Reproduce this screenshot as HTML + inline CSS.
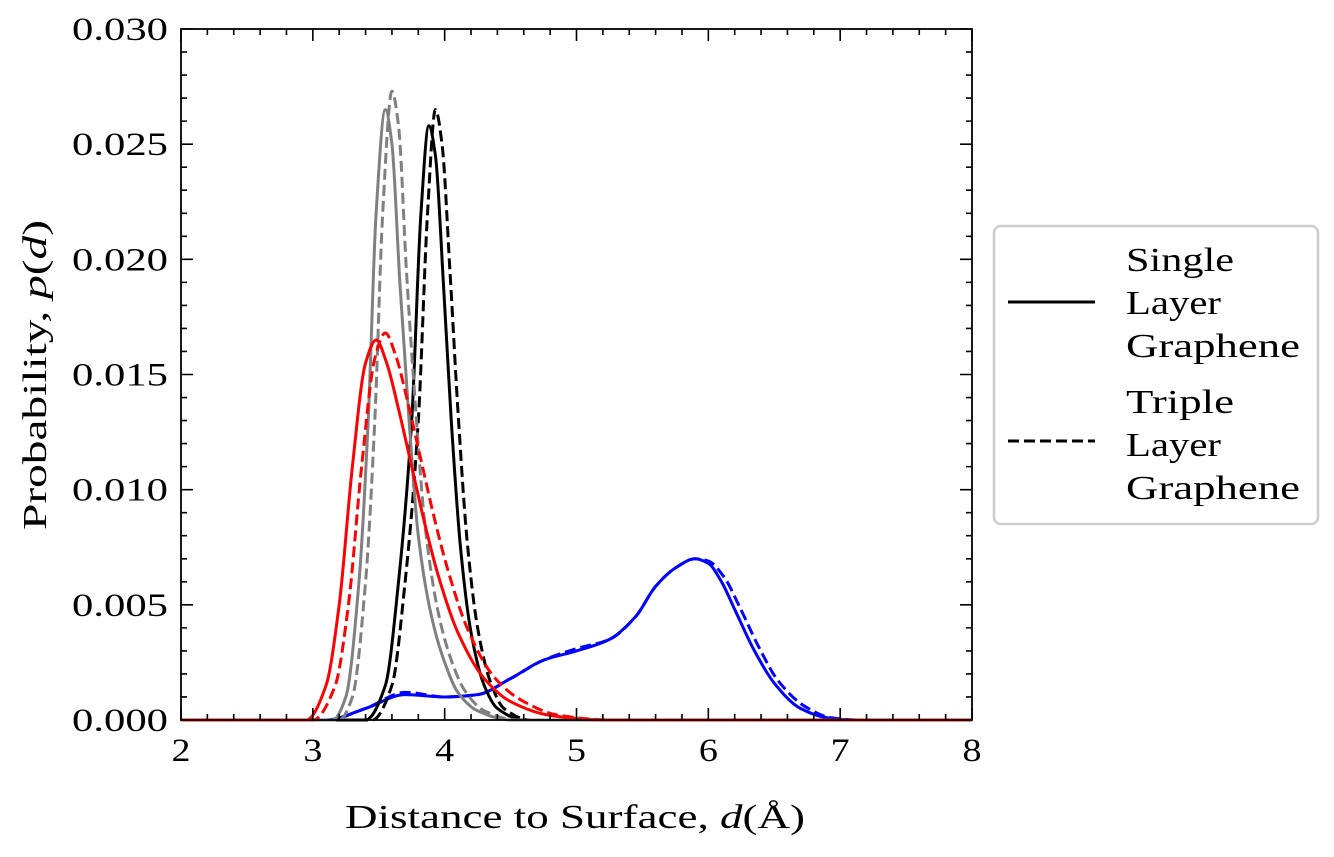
<!DOCTYPE html>
<html><head><meta charset="utf-8"><style>
body{margin:0;background:#fff;}
svg text{font-family:"Liberation Serif","DejaVu Serif",serif;fill:#000;}
</style></head><body>
<svg id="chart" width="1334" height="852" viewBox="0 0 1334 852" xmlns="http://www.w3.org/2000/svg">
<g id="plot"></g>
<g id="axes"></g>
<text x="345" y="828" font-size="34" textLength="460" lengthAdjust="spacingAndGlyphs">Distance to Surface, <tspan font-style="italic">d</tspan>(Å)</text>
<text transform="translate(46,530) rotate(-90)" font-size="34" textLength="310" lengthAdjust="spacingAndGlyphs">Probability, <tspan font-style="italic">p</tspan>(<tspan font-style="italic">d</tspan>)</text>
<g>
<rect x="994" y="226" width="324" height="298" rx="7" fill="#fff" stroke="#ccc" stroke-width="2.5"/>
<line x1="1008" y1="302" x2="1095" y2="302" stroke="#000" stroke-width="3"/>
<text font-size="34"><tspan x="1126" y="271" textLength="108" lengthAdjust="spacingAndGlyphs">Single</tspan><tspan x="1126" y="314" textLength="95" lengthAdjust="spacingAndGlyphs">Layer</tspan><tspan x="1126" y="357" textLength="174" lengthAdjust="spacingAndGlyphs">Graphene</tspan></text>
<line x1="1008" y1="441" x2="1095" y2="441" stroke="#000" stroke-width="3" stroke-dasharray="11,5"/>
<text font-size="34"><tspan x="1126" y="413" textLength="108" lengthAdjust="spacingAndGlyphs">Triple</tspan><tspan x="1126" y="456" textLength="95" lengthAdjust="spacingAndGlyphs">Layer</tspan><tspan x="1126" y="499" textLength="174" lengthAdjust="spacingAndGlyphs">Graphene</tspan></text>
</g>
</svg>
<script>
const xTicks=[2,3,4,5,6,7,8];
const yTicks=[0,0.005,0.010,0.015,0.020,0.025,0.030];
const yTickLabels=["0.000","0.005","0.010","0.015","0.020","0.025","0.030"];
const grayX=[2,3.15,3.25,3.35,3.42,3.48,3.55,3.6,3.66,3.73,3.8,3.9,4.0,4.1,4.25,4.5,8];
const graySolid=[0,0,0.001,0.006,0.013,0.022,0.0265,0.025,0.019,0.013,0.008,0.0045,0.0025,0.0012,0.0004,0,0];
const grayDashX=[2,3.2,3.3,3.4,3.47,3.53,3.6,3.65,3.71,3.78,3.85,3.95,4.05,4.15,4.3,4.55,8];
const grayDash=[0,0,0.001,0.006,0.013,0.022,0.0273,0.0258,0.0195,0.0135,0.0085,0.0047,0.0026,0.0013,0.0004,0,0];
const blackX=[2,3.4,3.55,3.65,3.75,3.82,3.88,3.93,3.99,4.05,4.12,4.2,4.3,4.4,4.6,8];
const blackSolid=[0,0,0.0015,0.006,0.013,0.022,0.0258,0.0245,0.019,0.013,0.0075,0.0038,0.0015,0.0005,0,0];
const blackDashX=[2,3.45,3.6,3.7,3.8,3.87,3.93,3.98,4.04,4.1,4.17,4.25,4.35,4.45,4.65,8];
const blackDash=[0,0,0.0015,0.006,0.013,0.022,0.0265,0.025,0.0195,0.0135,0.0078,0.004,0.0016,0.0005,0,0];
const redX=[2,2.95,3.1,3.2,3.3,3.4,3.48,3.56,3.65,3.75,3.85,3.95,4.1,4.3,4.5,4.8,5.2,8];
const redSolid=[0,0,0.0015,0.005,0.011,0.0155,0.0165,0.0155,0.0135,0.011,0.0085,0.0063,0.0038,0.0018,0.0008,0.0002,0,0];
const redDashX=[2,3.0,3.17,3.27,3.37,3.47,3.55,3.63,3.72,3.82,3.92,4.02,4.17,4.37,4.57,4.87,5.27,8];
const redDash=[0,0,0.0015,0.005,0.011,0.0157,0.0168,0.0158,0.0138,0.0113,0.0088,0.0066,0.004,0.0019,0.0009,0.0002,0,0];
const blueX=[2,3.1,3.4,3.7,4.0,4.25,4.5,4.75,5.0,5.25,5.45,5.6,5.75,5.9,6.0,6.1,6.2,6.35,6.5,6.7,6.9,7.1,8];
const blueSolid=[0,0,0.0005,0.0011,0.001,0.0011,0.0018,0.0026,0.003,0.0035,0.0045,0.0058,0.0066,0.007,0.0068,0.006,0.0048,0.003,0.0016,0.0005,0.0001,0,0];
const blueDashX=[2,3.1,3.4,3.7,4.0,4.25,4.5,4.75,5.0,5.25,5.45,5.6,5.75,5.9,6.0,6.12,6.23,6.38,6.53,6.73,6.93,7.13,8];
const blueDash=[0,0,0.0005,0.0012,0.001,0.0011,0.0018,0.0026,0.0031,0.0035,0.0045,0.0058,0.0066,0.007,0.0069,0.0062,0.005,0.0032,0.0017,0.0006,0.0001,0,0];

const X0=181,X1=972,Y0=720,Y1=29;
const sx=v=>X0+(v-2)/6*(X1-X0);
const sy=v=>Y0-v/0.03*(Y0-Y1);
const NS="http://www.w3.org/2000/svg";
const plot=document.getElementById('plot'),axes=document.getElementById('axes');
function mk(tag,attrs,parent){const e=document.createElementNS(NS,tag);for(const k in attrs)e.setAttribute(k,attrs[k]);parent.appendChild(e);return e;}
function pathD(xs,ys){
  const p=xs.map((x,i)=>[sx(x),sy(ys[i])]);
  const n=p.length,dl=[],m=[];
  for(let i=0;i<n-1;i++)dl.push((p[i+1][1]-p[i][1])/(p[i+1][0]-p[i][0]));
  for(let i=0;i<n;i++){
    if(i===0)m.push(dl[0]);else if(i===n-1)m.push(dl[n-2]);
    else if(dl[i-1]*dl[i]<=0)m.push(0);
    else{const h0=p[i][0]-p[i-1][0],h1=p[i+1][0]-p[i][0],w1=2*h1+h0,w2=h1+2*h0;m.push((w1+w2)/(w1/dl[i-1]+w2/dl[i]));}
  }
  let d='M'+p[0][0]+','+p[0][1];
  for(let i=0;i<n-1;i++){
    const h=(p[i+1][0]-p[i][0])/3;
    d+=`C${p[i][0]+h},${p[i][1]+m[i]*h} ${p[i+1][0]-h},${p[i+1][1]-m[i+1]*h} ${p[i+1][0]},${p[i+1][1]}`;
  }
  return d;
}
const series=[
 ['blue-single',blueX,blueSolid,'#0000ff',false],
 ['blue-triple',blueDashX,blueDash,'#0000ff',true],
 ['black-single',blackX,blackSolid,'#000',false],
 ['black-triple',blackDashX,blackDash,'#000',true],
 ['gray-single',grayX,graySolid,'#808080',false],
 ['gray-triple',grayDashX,grayDash,'#808080',true],
 ['red-single',redX,redSolid,'#ff0000',false],
 ['red-triple',redDashX,redDash,'#ff0000',true]];
series.forEach(s=>{
  const el=mk('path',{d:pathD(s[1],s[2]),fill:'none',stroke:s[3],'stroke-width':3,'stroke-dasharray':s[4]?'11,5':'none'},plot);
  
  
});
const frame=mk('rect',{x:X0,y:Y1,width:X1-X0,height:Y0-Y1,fill:'none',stroke:'#000','stroke-width':1.8},axes);


let td='';
for(let i=0;i<=30;i++){const v=2+i*0.2,x=sx(v),L=(i%5===0)?12:6;td+=`M${x},${Y0}v${-L}M${x},${Y1}v${L}`;}
for(let i=0;i<=30;i++){const y=sy(i*0.001),L=(i%5===0)?12:6;td+=`M${X0},${y}h${L}M${X1},${y}h${-L}`;}
const ticks=mk('path',{d:td,stroke:'#000','stroke-width':1.6,fill:'none'},axes);


xTicks.forEach(v=>{const t=mk('text',{x:sx(v),y:761,'font-size':33,'text-anchor':'middle',textLength:19,lengthAdjust:'spacingAndGlyphs'},axes);t.textContent=v;

});
yTicks.forEach((v,i)=>{const t=mk('text',{x:72,y:sy(v)+11,'font-size':33,textLength:96,lengthAdjust:'spacingAndGlyphs'},axes);t.textContent=yTickLabels[i];

});
</script>
</body></html>
